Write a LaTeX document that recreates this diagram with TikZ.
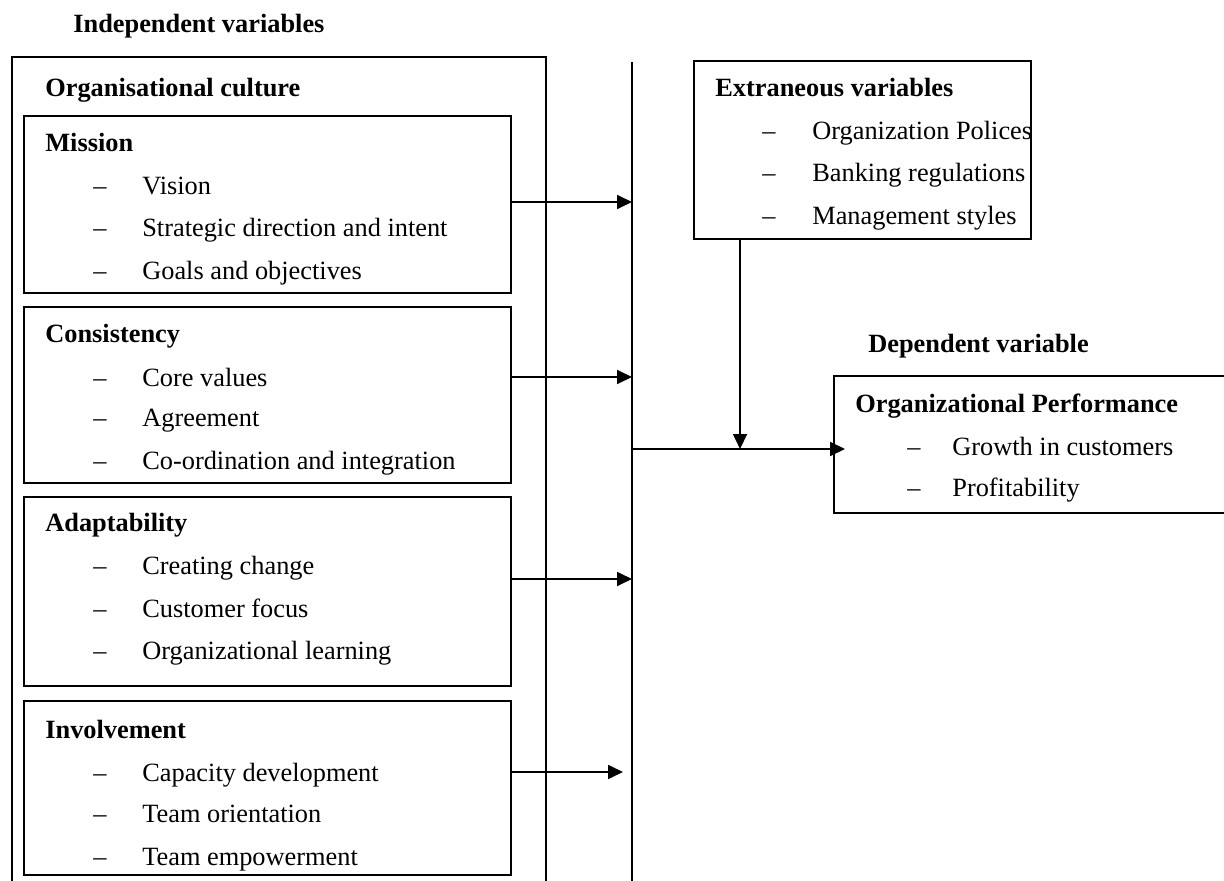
\documentclass[tikz,border=0pt]{standalone}
\usepackage{fontspec}
\setmainfont{Liberation Serif}
\usetikzlibrary{arrows.meta, positioning, fit, calc}

\tikzset{
  box/.style={draw, line width=1.1pt, inner sep=0pt},
  head/.style={font=\bfseries, anchor=base west, inner sep=0pt},
  item/.style={anchor=base west, inner sep=0pt},
  arr/.style={-{Triangle[length=0.3cm, width=0.28cm]}, line width=1pt},
}
\newcommand{\bl}[2][0.98cm]{\makebox[#1][l]{--}#2}

\begin{document}
\fontsize{15}{18}\selectfont
\begin{tikzpicture}[x=0.02cm, y=-0.02cm]
  \useasboundingbox (0,0) rectangle (1224,881);
  % independent variables
  \node[head] (indep) at (73,33) {Independent variables};
  \draw[box] (12,881) |- (546,57) -- (546,881);
  \node[head] (culture) at (45,97) {Organisational culture};

  \node[box, fit={(24,116) (511,293)}] (mission) {};
  \node[head] (mishd) at (45,152) {Mission};
  \node[item] (mis1) at (93,195) {\bl{Vision}};
  \node[item] (mis2) at (93,237) {\bl{Strategic direction and intent}};
  \node[item] (mis3) at (93,280) {\bl{Goals and objectives}};

  \node[box, fit={(24,307) (511,483)}] (consist) {};
  \node[head] (conhd) at (45,343) {Consistency};
  \node[item] (con1) at (93,387) {\bl{Core values}};
  \node[item] (con2) at (93,427) {\bl{Agreement}};
  \node[item] (con3) at (93,470) {\bl{Co-ordination and integration}};

  \node[box, fit={(24,497) (511,686)}] (adapt) {};
  \node[head] (adahd) at (45,532) {Adaptability};
  \node[item] (ada1) at (93,575) {\bl{Creating change}};
  \node[item] (ada2) at (93,618) {\bl{Customer focus}};
  \node[item] (ada3) at (93,660) {\bl{Organizational learning}};

  \node[box, fit={(24,701) (511,875)}] (involve) {};
  \node[head] (invhd) at (45,738) {Involvement};
  \node[item] (inv1) at (93,781) {\bl{Capacity development}};
  \node[item] (inv2) at (93,822) {\bl{Team orientation}};
  \node[item] (inv3) at (93,865) {\bl{Team empowerment}};

  % extraneous variables
  \node[box, fit={(694,61) (1031,239)}] (extr) {};
  \node[head] (exthd) at (715,97) {Extraneous variables};
  \node[item] (ext1) at (762,140) {\bl[1cm]{Organization Polices}};
  \node[item] (ext2) at (762,182) {\bl[1cm]{Banking regulations}};
  \node[item] (ext3) at (762,225) {\bl[1cm]{Management styles}};

  % dependent variable
  \node[head] (dephd) at (868,353) {Dependent variable};
  \node[box, fit={(834,376) (1240,513)}] (dep) {};
  \node[head] (perfhd) at (855,413) {Organizational Performance};
  \node[item] (perf1) at (907,456) {\bl[0.9cm]{Growth in customers}};
  \node[item] (perf2) at (907,497) {\bl[0.9cm]{Profitability}};

  % connectors
  \coordinate (vtop) at (632,62);
  \coordinate (vbot) at (632,881);
  \draw[line width=1pt] (vtop) -- (vbot);
  \draw[arr] ([yshift=0.05cm]mission.east) coordinate (a1) -- (a1 -| vtop);
  \draw[arr] ([yshift=0.36cm]consist.east) coordinate (a2) -- (a2 -| vtop);
  \draw[arr] ([yshift=0.25cm]adapt.east) coordinate (a3) -- (a3 -| vtop);
  \draw[arr, shorten >=0.18cm] ([yshift=0.32cm]involve.east) coordinate (a4) -- (a4 -| vtop);
  \coordinate (jn) at (632,449);
  \draw[arr] ([xshift=0.94cm]extr.south west) coordinate (ex) -- (ex |- jn);
  \draw[arr, shorten >=-0.24cm] (jn) -- (jn -| dep.west);
\end{tikzpicture}
\end{document}
